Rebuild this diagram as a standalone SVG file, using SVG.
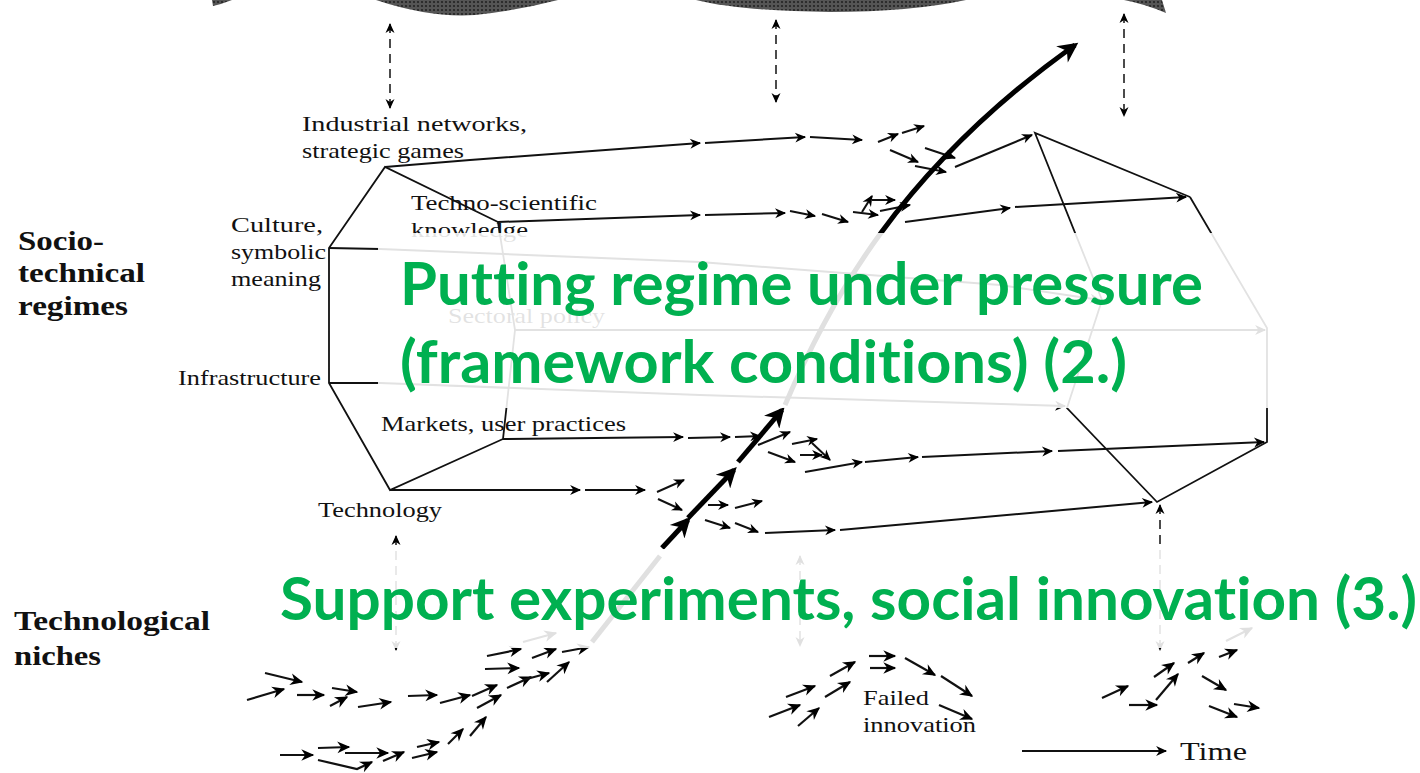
<svg xmlns="http://www.w3.org/2000/svg" width="1420" height="773" viewBox="0 0 1420 773">
<defs>
<marker id="ah" viewBox="0 0 10 10" refX="9" refY="5" markerWidth="17" markerHeight="11" markerUnits="userSpaceOnUse" orient="auto"><path d="M0,0.5 L10,5 L0,9.5 L3,5 z" fill="#000"/></marker>
<marker id="ahn" viewBox="0 0 10 10" refX="9" refY="5" markerWidth="18" markerHeight="13" markerUnits="userSpaceOnUse" orient="auto"><path d="M0,0.5 L10,5 L0,9.5 L3,5 z" fill="#000"/></marker>
<marker id="ahd" viewBox="0 0 10 10" refX="9" refY="5" markerWidth="13" markerHeight="10" markerUnits="userSpaceOnUse" orient="auto-start-reverse"><path d="M0,0.5 L10,5 L0,9.5 L3,5 z" fill="#000"/></marker>
<marker id="big" viewBox="0 0 10 10" refX="8" refY="5" markerWidth="30" markerHeight="20" markerUnits="userSpaceOnUse" orient="auto"><path d="M0,0 L10,5 L0,10 L3,5 z" fill="#000"/></marker>
<pattern id="hatch" width="4" height="4" patternUnits="userSpaceOnUse"><rect width="4" height="4" fill="#555"/><circle cx="2" cy="2" r="1.1" fill="#222"/></pattern>
<style>
.lbl{font-family:"Liberation Serif","Times New Roman",serif;font-size:21px;fill:#111}
.hd{font-family:"Liberation Serif","Times New Roman",serif;font-size:27px;font-weight:bold;fill:#111}
.g{font-family:Lato,"Open Sans",sans-serif;font-size:60px;font-weight:bold;fill:#00b050;font-variant-ligatures:none;font-feature-settings:"liga" 0,"clig" 0}
.e{stroke:#111;stroke-width:1.8;fill:none}
.c{stroke:#111;stroke-width:2;fill:none;marker-end:url(#ah)}
.s{stroke:#111;stroke-width:2.2;fill:none;marker-end:url(#ahn)}
.d{stroke:#111;stroke-width:1.5;fill:none;stroke-dasharray:9 6;marker-start:url(#ahd);marker-end:url(#ahd)}
.tk{stroke:#000;stroke-width:5;fill:none;marker-end:url(#big)}
</style>
</defs>
<rect width="1420" height="773" fill="#fff"/>

<g id="landscape">
<path d="M212,0 L232,0 Q222,4 213,6 Z" fill="url(#hatch)"/>
<path d="M376,0 L558,0 Q520,10 475,15 Q430,18 376,0 Z" fill="url(#hatch)"/>
<path d="M696,0 L966,0 Q910,12 830,12 Q740,11 696,0 Z" fill="url(#hatch)"/>
<path d="M1124,0 L1162,0 L1166,13 Q1145,4 1124,0 Z" fill="url(#hatch)"/>
</g>

<g id="dashed-links">
<line class="d" x1="390" y1="24" x2="390" y2="108"/>
<line class="d" x1="776" y1="20" x2="776" y2="102"/>
<line class="d" x1="1124" y1="14" x2="1124" y2="116"/>
<line class="d" x1="396" y1="536" x2="396" y2="650"/>
<line class="d" x1="800" y1="556" x2="800" y2="646"/>
<line class="d" x1="1160" y1="505" x2="1160" y2="650"/>
</g>

<g id="regime-prism">
<polyline class="e" points="498,222 385,167 329,248 329,383 390,490 503,439 515,330 498,222"/>
<polyline class="e" points="1190,197 1035,133 1102,300 1067,408 1157,502 1267,442 1267,328 1190,197"/>
</g>

<g id="connectors">
<path class="c" d="M385,167 L470,160 L700,143"/>
<line class="c" x1="705" y1="143" x2="805" y2="137"/>
<line class="c" x1="810" y1="137" x2="862" y2="140"/>
<line class="c" x1="955" y1="167" x2="1032" y2="135"/>
<line class="c" x1="498" y1="222" x2="700" y2="215"/>
<line class="c" x1="705" y1="215" x2="785" y2="213"/>
<line class="c" x1="905" y1="222" x2="1010" y2="208"/>
<line class="c" x1="1015" y1="207" x2="1186" y2="197"/>
<path class="c" d="M329,248 L380,249 L700,262 L1000,285 L1100,300"/>
<line class="c" x1="515" y1="330" x2="1265" y2="330"/>
<path class="c" d="M329,383 L380,383 L700,395 L1065,406"/>
<line class="c" x1="503" y1="439" x2="683" y2="437"/>
<line class="c" x1="688" y1="438" x2="730" y2="437"/>
<line class="c" x1="735" y1="437" x2="760" y2="436"/>
<line class="c" x1="805" y1="472" x2="862" y2="462"/>
<line class="c" x1="865" y1="462" x2="918" y2="457"/>
<line class="c" x1="922" y1="457" x2="1052" y2="451"/>
<line class="c" x1="1058" y1="451" x2="1264" y2="442"/>
<line class="c" x1="390" y1="490" x2="580" y2="490"/>
<line class="c" x1="585" y1="490" x2="645" y2="490"/>
<line class="c" x1="765" y1="533" x2="835" y2="530"/>
<line class="c" x1="840" y1="530" x2="1152" y2="502"/>
<line class="c" x1="878" y1="142" x2="898" y2="134"/>
<line class="c" x1="902" y1="133" x2="924" y2="126"/>
<line class="c" x1="890" y1="150" x2="918" y2="162"/>
<line class="c" x1="925" y1="148" x2="955" y2="158"/>
<line class="c" x1="915" y1="166" x2="946" y2="172"/>
<line class="c" x1="790" y1="211" x2="815" y2="216"/>
<line class="c" x1="822" y1="214" x2="848" y2="222"/>
<line class="c" x1="853" y1="212" x2="878" y2="215"/>
<line class="c" x1="862" y1="212" x2="872" y2="196"/>
<line class="c" x1="872" y1="200" x2="895" y2="200"/>
<line class="c" x1="880" y1="211" x2="910" y2="205"/>
<line class="c" x1="758" y1="445" x2="790" y2="432"/>
<line class="c" x1="768" y1="452" x2="795" y2="462"/>
<line class="c" x1="792" y1="444" x2="817" y2="439"/>
<line class="c" x1="800" y1="455" x2="822" y2="455"/>
<line class="c" x1="812" y1="443" x2="830" y2="460"/>
<line class="c" x1="657" y1="492" x2="684" y2="480"/>
<line class="c" x1="658" y1="499" x2="682" y2="510"/>
<line class="c" x1="708" y1="505" x2="728" y2="505"/>
<line class="c" x1="735" y1="508" x2="762" y2="501"/>
<line class="c" x1="705" y1="520" x2="730" y2="528"/>
<line class="c" x1="735" y1="523" x2="758" y2="532"/>
</g>

<g id="main-trajectory">
<path d="M592,642 L660,556" stroke="#000" stroke-width="5" fill="none"/>
<line class="tk" x1="662" y1="548" x2="688" y2="520"/>
<line class="tk" x1="688" y1="518" x2="734" y2="470"/>
<line class="tk" x1="738" y1="462" x2="782" y2="410"/>
<path class="tk" d="M785,405 C830,300 900,170 1075,45"/>
</g>

<g id="niche-arrows">
<line class="s" x1="265" y1="673" x2="302" y2="682"/>
<line class="s" x1="247" y1="700" x2="284" y2="689"/>
<line class="s" x1="297" y1="695" x2="324" y2="695"/>
<line class="s" x1="332" y1="688" x2="357" y2="692"/>
<line class="s" x1="330" y1="706" x2="347" y2="697"/>
<line class="s" x1="358" y1="707" x2="391" y2="702"/>
<line class="s" x1="408" y1="696" x2="437" y2="695"/>
<line class="s" x1="440" y1="703" x2="470" y2="695"/>
<line class="s" x1="472" y1="696" x2="497" y2="685"/>
<line class="s" x1="477" y1="708" x2="501" y2="695"/>
<line class="s" x1="487" y1="656" x2="521" y2="649"/>
<line class="s" x1="485" y1="669" x2="519" y2="668"/>
<line class="s" x1="507" y1="688" x2="531" y2="677"/>
<line class="s" x1="523" y1="680" x2="549" y2="673"/>
<line class="s" x1="532" y1="658" x2="556" y2="649"/>
<line class="s" x1="547" y1="682" x2="569" y2="662"/>
<line class="s" x1="562" y1="652" x2="589" y2="647"/>
<line class="s" x1="523" y1="642" x2="556" y2="633"/>
<line class="s" x1="280" y1="755" x2="313" y2="755"/>
<line class="s" x1="318" y1="748" x2="349" y2="747"/>
<path class="s" d="M318,760 L357,769 L372,762"/>
<line class="s" x1="345" y1="753" x2="388" y2="753"/>
<line class="s" x1="383" y1="761" x2="404" y2="752"/>
<line class="s" x1="412" y1="758" x2="437" y2="752"/>
<line class="s" x1="417" y1="747" x2="439" y2="742"/>
<line class="s" x1="448" y1="744" x2="463" y2="729"/>
<line class="s" x1="470" y1="736" x2="486" y2="717"/>
<line class="s" x1="769" y1="717" x2="800" y2="705"/>
<line class="s" x1="798" y1="726" x2="819" y2="708"/>
<line class="s" x1="786" y1="697" x2="815" y2="686"/>
<line class="s" x1="825" y1="697" x2="850" y2="682"/>
<line class="s" x1="830" y1="676" x2="855" y2="662"/>
<line class="s" x1="869" y1="656" x2="895" y2="656"/>
<line class="s" x1="870" y1="668" x2="895" y2="668"/>
<line class="s" x1="905" y1="658" x2="935" y2="675"/>
<line class="s" x1="941" y1="676" x2="972" y2="696"/>
<line class="s" x1="939" y1="705" x2="972" y2="719"/>
<line class="s" x1="1102" y1="698" x2="1128" y2="686"/>
<line class="s" x1="1129" y1="705" x2="1157" y2="705"/>
<line class="s" x1="1154" y1="677" x2="1174" y2="663"/>
<line class="s" x1="1156" y1="700" x2="1178" y2="674"/>
<line class="s" x1="1188" y1="663" x2="1204" y2="653"/>
<line class="s" x1="1219" y1="657" x2="1237" y2="650"/>
<line class="s" x1="1202" y1="676" x2="1226" y2="690"/>
<line class="s" x1="1209" y1="706" x2="1237" y2="717"/>
<line class="s" x1="1234" y1="704" x2="1259" y2="708"/>
<line class="s" x1="1226" y1="641" x2="1252" y2="628"/>
</g>

<g id="time-axis">
<line class="c" x1="1022" y1="751" x2="1166" y2="751"/>
<text class="lbl" x="1180" y="760" style="font-size:26px" textLength="67" lengthAdjust="spacingAndGlyphs">Time</text>
</g>

<g id="labels">
<text class="lbl" x="302" y="131" textLength="225" lengthAdjust="spacingAndGlyphs">Industrial networks,</text>
<text class="lbl" x="302" y="158" textLength="162" lengthAdjust="spacingAndGlyphs">strategic games</text>
<text class="lbl" x="411" y="210" textLength="186" lengthAdjust="spacingAndGlyphs">Techno-scientific</text>
<text class="lbl" x="411" y="237" textLength="117" lengthAdjust="spacingAndGlyphs">knowledge</text>
<text class="lbl" x="231" y="232" textLength="92" lengthAdjust="spacingAndGlyphs">Culture,</text>
<text class="lbl" x="231" y="259" textLength="95" lengthAdjust="spacingAndGlyphs">symbolic</text>
<text class="lbl" x="231" y="286" textLength="90" lengthAdjust="spacingAndGlyphs">meaning</text>
<text class="lbl" x="178" y="385" textLength="143" lengthAdjust="spacingAndGlyphs">Infrastructure</text>
<text class="lbl" x="448" y="323" textLength="157" lengthAdjust="spacingAndGlyphs">Sectoral policy</text>
<text class="lbl" x="381" y="431" textLength="245" lengthAdjust="spacingAndGlyphs">Markets, user practices</text>
<text class="lbl" x="318" y="517" textLength="124" lengthAdjust="spacingAndGlyphs">Technology</text>
<text class="lbl" x="863" y="705" textLength="66" lengthAdjust="spacingAndGlyphs">Failed</text>
<text class="lbl" x="863" y="732" textLength="113" lengthAdjust="spacingAndGlyphs">innovation</text>
<text class="hd" x="18" y="250" textLength="86" lengthAdjust="spacingAndGlyphs">Socio-</text>
<text class="hd" x="18" y="282" textLength="127" lengthAdjust="spacingAndGlyphs">technical</text>
<text class="hd" x="18" y="315" textLength="110" lengthAdjust="spacingAndGlyphs">regimes</text>
<text class="hd" x="14" y="630" textLength="196" lengthAdjust="spacingAndGlyphs">Technological</text>
<text class="hd" x="14" y="665" textLength="87" lengthAdjust="spacingAndGlyphs">niches</text>
</g>

<g id="overlays">
<rect x="378" y="233" width="890" height="175" fill="#fff" opacity="0.88"/>
<rect x="275" y="549" width="1145" height="99" fill="#fff" opacity="0.88"/>
</g>

<g id="green-text">
<text class="g" x="400" y="305" textLength="803" lengthAdjust="spacingAndGlyphs">Putting regime under pressure</text>
<text class="g" x="400" y="383" textLength="727" lengthAdjust="spacingAndGlyphs">(framework conditions) (2.)</text>
<text class="g" x="280" y="620" textLength="1137" lengthAdjust="spacingAndGlyphs">Support experiments, social innovation (3.)</text>
</g>
</svg>
